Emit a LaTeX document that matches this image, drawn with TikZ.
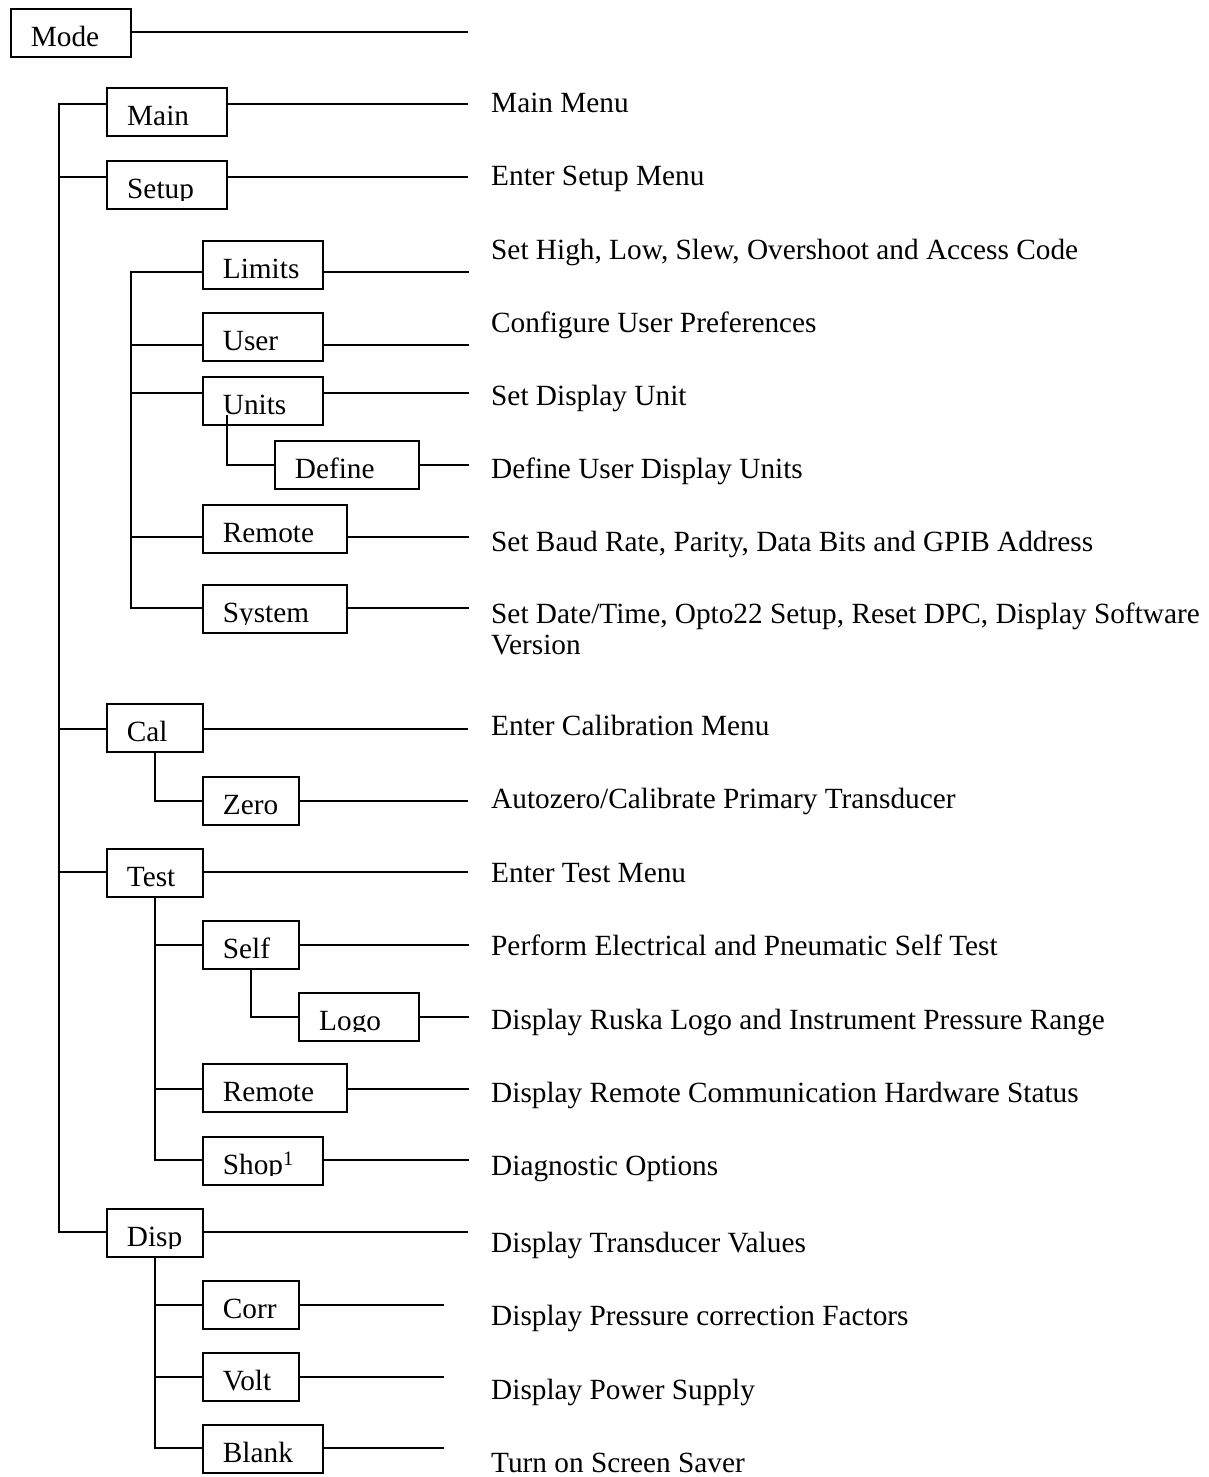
\documentclass[tikz,border=0pt]{standalone}
\usepackage{fontspec}
\setmainfont{Liberation Serif}
\usetikzlibrary{calc}
\tikzset{
  mbox/.style={draw, line width=1.8pt, minimum height=48, inner sep=0pt, outer sep=0pt, anchor=north west},
  conn/.style={line width=1.8pt, line cap=rect},
  txt/.style={anchor=base west, inner sep=0pt, font=\fontsize{29.3}{31}\selectfont},
}
\newcommand\menubox[5]{%
  \node[mbox, minimum width=#4] (#1) at (#2,#3) {};
  \begin{scope}
    \clip (#1.north west) rectangle ($(#1.south east)+(0,-9)$);
    \node[txt] (#1-t) at ($(#1.south west)+(20,-10.5)$) {#5};
  \end{scope}}
\newcommand\rline[3]{%
  \coordinate (#1-r) at (#3,#2);
  \draw[conn] (#1-r -| #1.east) -- (#1-r);}
\newcommand\lline[2]{%
  \draw[conn] (#1 |- #2-r) -- (#2-r -| #2.west);}
\begin{document}
\begin{tikzpicture}[x=1pt,y=-1pt]
\useasboundingbox (0,0) rectangle (1209,1477);
% boxes
\menubox{mode}{10.7}{9}{120}{Mode}
\menubox{main}{107}{88}{120}{Main}
\menubox{setup}{107}{161}{120}{Setup}
\menubox{limits}{202.7}{240.7}{120}{Limits}
\menubox{user}{202.7}{313}{120}{User}
\menubox{units}{202.7}{377}{120}{Units}
\menubox{define}{274.7}{440.7}{144.6}{Define}
\menubox{remote}{202.7}{505}{144.6}{Remote}
\menubox{system}{202.7}{585}{144.6}{System}
\menubox{cal}{106.7}{704.3}{96.6}{Cal}
\menubox{zero}{202.7}{776.7}{96.6}{Zero}
\menubox{test}{106.7}{849}{96.6}{Test}
\menubox{self}{202.7}{920.7}{96.6}{Self}
\menubox{logo}{299}{992.7}{120}{Logo}
\menubox{tremote}{202.7}{1064.3}{144.6}{Remote}
\menubox{shop}{202.7}{1136.7}{120}{Shop\textsuperscript{1}}
\menubox{disp}{106.7}{1209}{96.6}{Disp}
\menubox{corr}{202.7}{1280.7}{96.6}{Corr}
\menubox{volt}{202.7}{1352.7}{96.6}{Volt}
\menubox{blank}{202.7}{1425}{120.6}{Blank}
% right lines
\rline{mode}{32}{467}
\rline{main}{104}{467}
\rline{setup}{177}{467}
\rline{limits}{272}{468}
\rline{user}{344.7}{468}
\rline{units}{392.7}{468}
\rline{define}{465}{468}
\rline{remote}{536.7}{468}
\rline{system}{608.3}{468}
\rline{cal}{729}{467}
\rline{zero}{800.7}{467}
\rline{test}{872.3}{467}
\rline{self}{945}{468}
\rline{logo}{1016.7}{468}
\rline{tremote}{1089}{468}
\rline{shop}{1160}{468}
\rline{disp}{1232.3}{467}
\rline{corr}{1305}{443}
\rline{volt}{1376.7}{443}
\rline{blank}{1448.3}{443}
% main trunk
\coordinate (trunk) at (59,104);
\draw[conn] (trunk |- main-r) -- (trunk |- disp-r);
\lline{trunk}{main}
\lline{trunk}{setup}
\lline{trunk}{cal}
\lline{trunk}{test}
\lline{trunk}{disp}
% setup subtree
\coordinate (strunk) at (131,272);
\draw[conn] (strunk |- limits-r) -- (strunk |- system-r);
\lline{strunk}{limits}
\lline{strunk}{user}
\lline{strunk}{units}
\lline{strunk}{remote}
\lline{strunk}{system}
% units -> define
\coordinate (utrunk) at (226.7,416);
\draw[conn] (utrunk) |- (define-r -| define.west);
% cal -> zero
\draw[conn] (cal.south) |- (zero-r -| zero.west);
% test subtree
\draw[conn] (test.south) -- (test.south |- shop-r);
\lline{test.south}{self}
\lline{test.south}{tremote}
\lline{test.south}{shop}
\draw[conn] (self.south) |- (logo-r -| logo.west);
% disp subtree
\draw[conn] (disp.south) -- (disp.south |- blank-r);
\lline{disp.south}{corr}
\lline{disp.south}{volt}
\lline{disp.south}{blank}
% descriptions
\node[txt] (d-main) at (491,113) {Main Menu};
\node[txt] (d-setup) at (491,185) {Enter Setup Menu};
\node[txt] (d-limits) at (491,259) {Set High, Low, Slew, Overshoot and Access Code};
\node[txt] (d-user) at (491,332) {Configure User Preferences};
\node[txt] (d-units) at (491,405) {Set Display Unit};
\node[txt] (d-define) at (491,478) {Define User Display Units};
\node[txt] (d-remote) at (491,551) {Set Baud Rate, Parity, Data Bits and GPIB Address};
\node[txt, align=left] (d-system) at (491,654) {Set Date/Time, Opto22 Setup, Reset DPC, Display Software\\Version};
\node[txt] (d-cal) at (491,735) {Enter Calibration Menu};
\node[txt] (d-zero) at (491,808) {Autozero/Calibrate Primary Transducer};
\node[txt] (d-test) at (491,882) {Enter Test Menu};
\node[txt] (d-self) at (491,955) {Perform Electrical and Pneumatic Self Test};
\node[txt] (d-logo) at (491,1029) {Display Ruska Logo and Instrument Pressure Range};
\node[txt] (d-tremote) at (491,1102) {Display Remote Communication Hardware Status};
\node[txt] (d-shop) at (491,1175) {Diagnostic Options};
\node[txt] (d-disp) at (491,1252) {Display Transducer Values};
\node[txt] (d-corr) at (491,1325) {Display Pressure correction Factors};
\node[txt] (d-volt) at (491,1399) {Display Power Supply};
\node[txt] (d-blank) at (491,1472) {Turn on Screen Saver};
\end{tikzpicture}
\end{document}
